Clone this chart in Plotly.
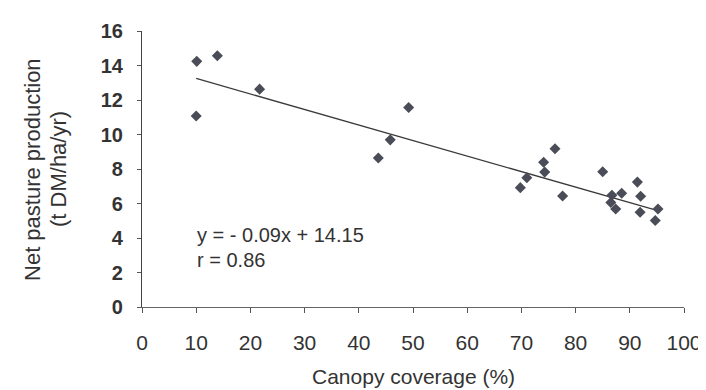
import plotly.graph_objects as go

canopy = [10.1, 13.9, 10.0, 21.7, 49.2, 45.8, 43.6, 76.2, 74.1, 74.3, 71.0, 69.8,
          77.6, 85.0, 91.4, 86.7, 88.5, 86.5, 87.4, 92.0, 91.9, 95.2, 94.7]
production = [14.24, 14.56, 11.07, 12.63, 11.57, 9.69, 8.64, 9.17, 8.39, 7.82, 7.49, 6.92,
              6.44, 7.84, 7.24, 6.48, 6.59, 6.06, 5.68, 6.42, 5.49, 5.68, 5.01]
slope = -0.09
intercept = 14.15
fit_range = [10, 95]
x_ticks = [0, 10, 20, 30, 40, 50, 60, 70, 80, 90, 100]
y_ticks = [0, 2, 4, 6, 8, 10, 12, 14, 16]

fit_y = [slope * x + intercept for x in fit_range]

FONT = "Liberation Sans, Arial"
TXT = "#333333"

fig = go.Figure()
fig.add_trace(go.Scatter(x=fit_range, y=fit_y, mode="lines",
                         line=dict(color="#3a3a3a", width=1.3), hoverinfo="skip"))
fig.add_trace(go.Scatter(x=canopy, y=production, mode="markers",
                         marker=dict(symbol="diamond", size=8.5, color="#4a4d57")))

fig.add_annotation(x=9.7, y=4.17, xref="x", yref="y", xanchor="left", yanchor="middle",
                   text="y = - 0.09x + 14.15", showarrow=False,
                   font=dict(family=FONT, size=20, color=TXT))
fig.add_annotation(x=9.7, y=2.74, xref="x", yref="y", xanchor="left", yanchor="middle",
                   text="r = 0.86", showarrow=False,
                   font=dict(family=FONT, size=20, color=TXT))

# axis titles
fig.add_annotation(x=-0.203, y=0.5, xref="paper", yref="paper", xanchor="center", yanchor="middle",
                   text="Net pasture production", textangle=-90, showarrow=False,
                   font=dict(family=FONT, size=22, color=TXT))
fig.add_annotation(x=-0.155, y=0.5, xref="paper", yref="paper", xanchor="center", yanchor="middle",
                   text="(t DM/ha/yr)", textangle=-90, showarrow=False,
                   font=dict(family=FONT, size=22, color=TXT))
fig.add_annotation(x=0.5, y=-0.25, xref="paper", yref="paper", xanchor="center", yanchor="middle",
                   text="Canopy coverage (%)", showarrow=False,
                   font=dict(family=FONT, size=21, color=TXT))

fig.update_layout(
    width=706, height=390,
    margin=dict(l=133.5, r=22.7, t=20, b=90.5),
    paper_bgcolor="white", plot_bgcolor="white",
    showlegend=False,
    font=dict(family=FONT, color=TXT),
)
fig.update_xaxes(range=[0, 100], tickvals=x_ticks, showgrid=False, zeroline=False,
                 showline=True, linecolor="#666", linewidth=1,
                 ticks="outside", ticklen=5, tickcolor="#555",
                 ticklabelstandoff=12,
                 tickfont=dict(family=FONT, size=21, color=TXT))
fig.update_yaxes(range=[0, 16], tickvals=y_ticks, showgrid=False, zeroline=False,
                 showline=True, linecolor="#444", linewidth=1.2,
                 ticks="outside", ticklen=4, tickcolor="#555",
                 ticklabelstandoff=10,
                 tickfont=dict(family=FONT, size=20, color=TXT, weight="bold"))

fig.write_html("out.html")
